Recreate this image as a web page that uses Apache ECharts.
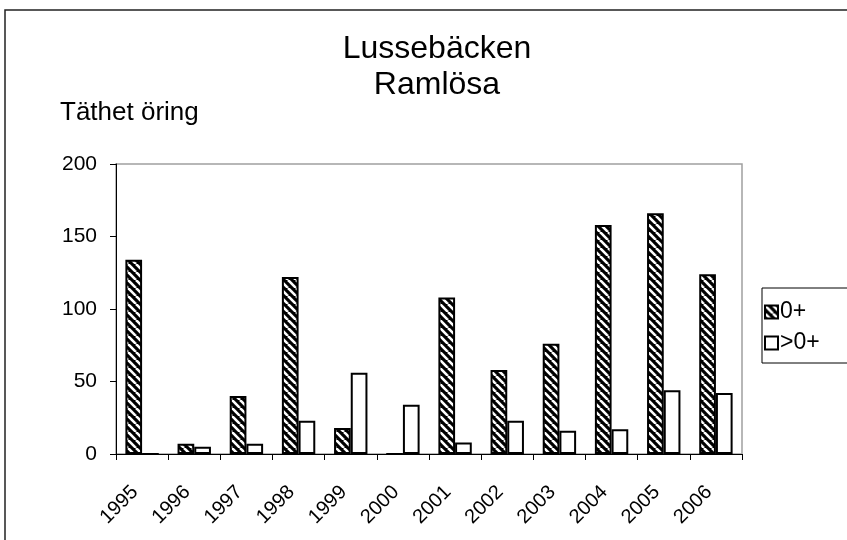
<!DOCTYPE html>
<html>
<head>
<meta charset="utf-8">
<script src="https://cdn.jsdelivr.net/npm/echarts@6/dist/echarts.min.js"></script>
<style>
  html, body { margin: 0; padding: 0; background: #fff; }
  #chart { width: 847px; height: 540px; }
</style>
</head>
<body>
<div id="chart"></div>
<script>
// data
const years = ['1995', '1996', '1997', '1998', '1999', '2000', '2001', '2002', '2003', '2004', '2005', '2006'];
const young = [134, 7, 40, 122, 18, 0, 108, 58, 76, 158, 166, 124];   // 0+
const older = [0, 5, 7, 23, 56, 34, 8, 23, 16, 17, 44, 42];           // >0+
const yTicks = [0, 50, 100, 150, 200];

// diagonal stripe fill
const makeStripes = () => {
  const s = 8;
  const c = document.createElement('canvas');
  c.width = s;
  c.height = s;
  const ctx = c.getContext('2d');
  ctx.fillStyle = '#000';
  ctx.fillRect(0, 0, s, s);
  ctx.strokeStyle = '#fff';
  ctx.lineWidth = 2.6;
  for (const x0 of [-s, 0, s]) {
    ctx.beginPath();
    ctx.moveTo(x0, 0);
    ctx.lineTo(x0 + s, s);
    ctx.stroke();
  }
  return c;
};

const chart = echarts.init(document.getElementById('chart'), null, {renderer: 'canvas'});
const font = 'Liberation Sans, Arial, sans-serif';

chart.setOption({
  animation: false,
  backgroundColor: '#fff',
  textStyle: {fontFamily: font, color: '#000'},
  title: {
    text: 'Lussebäcken\nRamlösa',
    left: 432,
    top: 26,
    textAlign: 'center',
    textStyle: {fontSize: 32, fontWeight: 'normal', lineHeight: 36, color: '#000', fontFamily: font}
  },
  graphic: [
    {
      type: 'rect',
      shape: {x: 5, y: 10, width: 900, height: 600},
      style: {fill: 'none', stroke: '#222', lineWidth: 1.5},
      silent: true
    },
    {
      type: 'text',
      left: 60,
      top: 100,
      style: {text: 'Täthet öring', fontSize: 26, fontFamily: font, fill: '#000'}
    }
  ],
  legend: {
    orient: 'vertical',
    left: 762,
    top: 288,
    borderColor: '#000',
    borderWidth: 1,
    padding: [12, 60, 8, 2],
    itemGap: 7,
    itemWidth: 13,
    itemHeight: 13,
    icon: 'rect',
    textStyle: {fontSize: 23, lineHeight: 24, fontFamily: font, color: '#000', padding: [0, 0, 0, -3]}
  },
  grid: {
    left: 116,
    top: 164,
    right: 105,
    bottom: 86,
    show: true,
    borderColor: '#a0a0a0',
    borderWidth: 1.5,
    backgroundColor: '#fff'
  },
  xAxis: {
    type: 'category',
    data: years,
    axisLine: {lineStyle: {color: '#000', width: 1}},
    axisTick: {show: true, length: 6, lineStyle: {color: '#000'}},
    axisLabel: {rotate: 45, interval: 0, fontSize: 20, margin: 28, padding: [0, 10, 0, 0], color: '#000'}
  },
  yAxis: {
    type: 'value',
    min: yTicks[0],
    max: yTicks[yTicks.length - 1],
    interval: yTicks[1] - yTicks[0],
    axisLine: {show: true, lineStyle: {color: '#000', width: 1}},
    axisTick: {show: true, length: 6, lineStyle: {color: '#000'}},
    axisLabel: {fontSize: 21, margin: 19, color: '#000'},
    splitLine: {show: false}
  },
  series: [
    {
      name: '0+',
      type: 'bar',
      data: young,
      barGap: '0%',
      barCategoryGap: '36%',
      itemStyle: {color: {image: makeStripes(), repeat: 'repeat'}, borderColor: '#000', borderWidth: 2}
    },
    {
      name: '>0+',
      type: 'bar',
      data: older,
      itemStyle: {color: '#fff', borderColor: '#000', borderWidth: 2}
    }
  ]
});
</script>
</body>
</html>
